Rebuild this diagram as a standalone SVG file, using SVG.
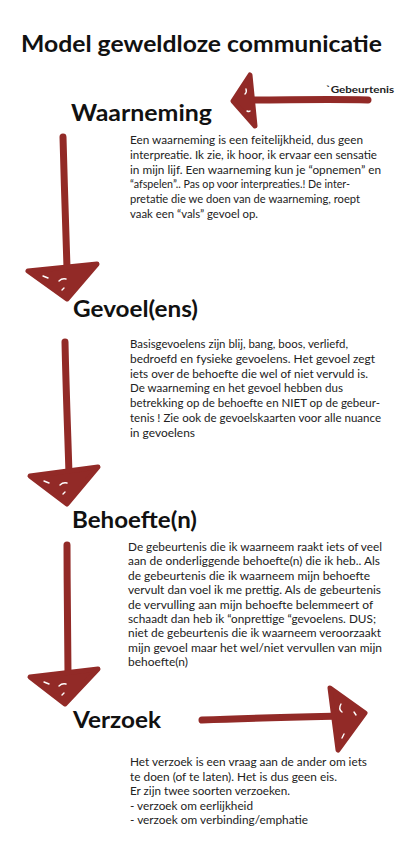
<svg xmlns="http://www.w3.org/2000/svg" width="400" height="850" viewBox="0 0 400 850">
<style>
.bg{fill:#ffffff}
.title{font-family:Lato,"Open Sans","Liberation Sans",sans-serif;font-weight:700;font-size:23px;fill:#111}
.head{font-family:Lato,"Open Sans","Liberation Sans",sans-serif;font-weight:700;font-size:23px;fill:#111}
.body{font-family:Lato,"Open Sans","Liberation Sans",sans-serif;font-size:11.5px;fill:#222}
.small{font-family:Lato,"Open Sans","Liberation Sans",sans-serif;font-weight:700;font-size:10px;fill:#222}
.shaft{fill:none;stroke:#922a27;stroke-width:7;stroke-linecap:round;stroke-linejoin:round}
.tip{fill:#922a27;stroke:#922a27;stroke-width:5;stroke-linejoin:round}
.speck{fill:none;stroke:#ffffff;stroke-width:1.4;stroke-linecap:round}
</style>
<rect class="bg" x="0" y="0" width="400" height="850"/>
<text class="title" x="21" y="52" textLength="361" lengthAdjust="spacingAndGlyphs">Model geweldloze communicatie</text>

<g id="connectors">
  <g id="arrow-gebeurtenis">
    <path class="shaft" d="M368,100 C330,99 290,100 252,100" stroke-width="5.5"/>
    <path class="tip" d="M233,101 L250,75 L255,126 Z"/>
    <path class="speck" d="M245,94 q2,-2 1,-5 M247,111 q2,1 3,0"/>
  </g>
  <g id="arrow-1">
    <path class="shaft" d="M63,137 C64,180 66,230 67,268"/>
    <path class="tip" d="M28,271 L97,264 L67,299 Z"/>
    <path class="speck" d="M43,276 l5,2 M59,281 q3,-3 7,-2 M62,290 l2,-2"/>
  </g>
  <g id="arrow-2">
    <path class="shaft" d="M65,342 C66,390 68,440 69,474"/>
    <path class="tip" d="M30,476 L98,467 L67,504 Z"/>
    <path class="speck" d="M44,481 l5,2 M60,485 q3,-3 7,-2 M63,494 l2,-2"/>
  </g>
  <g id="arrow-3">
    <path class="shaft" d="M67,545 C67,590 68,640 68,674"/>
    <path class="tip" d="M30,677 L98,669 L65,704 Z"/>
    <path class="speck" d="M44,682 l5,2 M59,686 q3,-3 7,-2 M62,695 l2,-2"/>
  </g>
  <g id="arrow-verzoek">
    <path class="shaft" d="M202,720 C250,718 300,717 345,716" stroke-width="7"/>
    <path class="tip" d="M330,688 L365,713 L338,750 Z"/>
    <path class="speck" d="M341,704 q-3,5 1,8 M342,738 l2,-4 M354,712 l2,3"/>
  </g>
</g>

<g id="gebeurtenis">
  <text class="small" x="326" y="93" textLength="68" lengthAdjust="spacingAndGlyphs">`Gebeurtenis</text>
</g>

<g id="waarneming">
  <text class="head" x="71" y="121" textLength="141" lengthAdjust="spacingAndGlyphs">Waarneming</text>
  <text class="body">
    <tspan x="130" y="144" textLength="233" lengthAdjust="spacingAndGlyphs">Een waarneming is een feitelijkheid, dus geen</tspan>
    <tspan x="130" y="158.8" textLength="247" lengthAdjust="spacingAndGlyphs">interpreatie. Ik zie, ik hoor, ik ervaar een sensatie</tspan>
    <tspan x="130" y="173.6" textLength="251" lengthAdjust="spacingAndGlyphs">in mijn lijf. Een waarneming kun je “opnemen” en</tspan>
    <tspan x="130" y="188.4" textLength="220" lengthAdjust="spacingAndGlyphs">“afspelen”.. Pas op voor interpreaties.! De inter-</tspan>
    <tspan x="130" y="203.2" textLength="230" lengthAdjust="spacingAndGlyphs">pretatie die we doen van de waarneming, roept</tspan>
    <tspan x="130" y="218" textLength="128" lengthAdjust="spacingAndGlyphs">vaak een “vals” gevoel op.</tspan>
  </text>
</g>

<g id="gevoel">
  <text class="head" x="73" y="317" textLength="125" lengthAdjust="spacingAndGlyphs">Gevoel(ens)</text>
  <text class="body">
    <tspan x="130" y="348" textLength="218" lengthAdjust="spacingAndGlyphs">Basisgevoelens zijn blij, bang, boos, verliefd,</tspan>
    <tspan x="130" y="362.8" textLength="245" lengthAdjust="spacingAndGlyphs">bedroefd en fysieke gevoelens. Het gevoel zegt</tspan>
    <tspan x="130" y="377.6" textLength="238" lengthAdjust="spacingAndGlyphs">iets over de behoefte die wel of niet vervuld is.</tspan>
    <tspan x="130" y="392.4" textLength="213" lengthAdjust="spacingAndGlyphs">De waarneming  en het gevoel hebben dus</tspan>
    <tspan x="130" y="407.2" textLength="250" lengthAdjust="spacingAndGlyphs">betrekking op de behoefte en NIET op de gebeur-</tspan>
    <tspan x="130" y="422" textLength="251" lengthAdjust="spacingAndGlyphs">tenis ! Zie ook de gevoelskaarten voor alle nuance</tspan>
    <tspan x="130" y="436.8" textLength="65" lengthAdjust="spacingAndGlyphs">in gevoelens</tspan>
  </text>
</g>

<g id="behoefte">
  <text class="head" x="72" y="528" textLength="125" lengthAdjust="spacingAndGlyphs">Behoefte(n)</text>
  <text class="body">
    <tspan x="128" y="551" textLength="254" lengthAdjust="spacingAndGlyphs">De gebeurtenis die ik waarneem raakt iets of veel</tspan>
    <tspan x="128" y="565.4" textLength="252" lengthAdjust="spacingAndGlyphs">aan de onderliggende behoefte(n) die ik heb.. Als</tspan>
    <tspan x="128" y="579.8" textLength="242" lengthAdjust="spacingAndGlyphs">de gebeurtenis die ik waarneem mijn behoefte</tspan>
    <tspan x="128" y="594.2" textLength="253" lengthAdjust="spacingAndGlyphs">vervult dan voel ik me prettig. Als de gebeurtenis</tspan>
    <tspan x="128" y="608.6" textLength="245" lengthAdjust="spacingAndGlyphs">de vervulling aan mijn behoefte belemmeert of</tspan>
    <tspan x="128" y="623" textLength="248" lengthAdjust="spacingAndGlyphs">schaadt dan heb ik “onprettige “gevoelens. DUS;</tspan>
    <tspan x="128" y="637.4" textLength="253" lengthAdjust="spacingAndGlyphs">niet de gebeurtenis die ik waarneem veroorzaakt</tspan>
    <tspan x="128" y="651.8" textLength="254" lengthAdjust="spacingAndGlyphs">mijn gevoel maar het wel/niet vervullen van mijn</tspan>
    <tspan x="128" y="666.2" textLength="60" lengthAdjust="spacingAndGlyphs">behoefte(n)</tspan>
  </text>
</g>

<g id="verzoek">
  <text class="head" x="73" y="728" textLength="88" lengthAdjust="spacingAndGlyphs">Verzoek</text>
  <text class="body">
    <tspan x="130" y="766" textLength="237" lengthAdjust="spacingAndGlyphs">Het verzoek is een vraag aan de ander om iets</tspan>
    <tspan x="130" y="780.5" textLength="207" lengthAdjust="spacingAndGlyphs">te doen  (of te laten). Het is dus geen eis.</tspan>
    <tspan x="130" y="795" textLength="160" lengthAdjust="spacingAndGlyphs">Er zijn twee soorten verzoeken.</tspan>
    <tspan x="130" y="809.5" textLength="123" lengthAdjust="spacingAndGlyphs">- verzoek om eerlijkheid</tspan>
    <tspan x="130" y="824" textLength="178" lengthAdjust="spacingAndGlyphs">- verzoek om verbinding/emphatie</tspan>
  </text>
</g>
</svg>
